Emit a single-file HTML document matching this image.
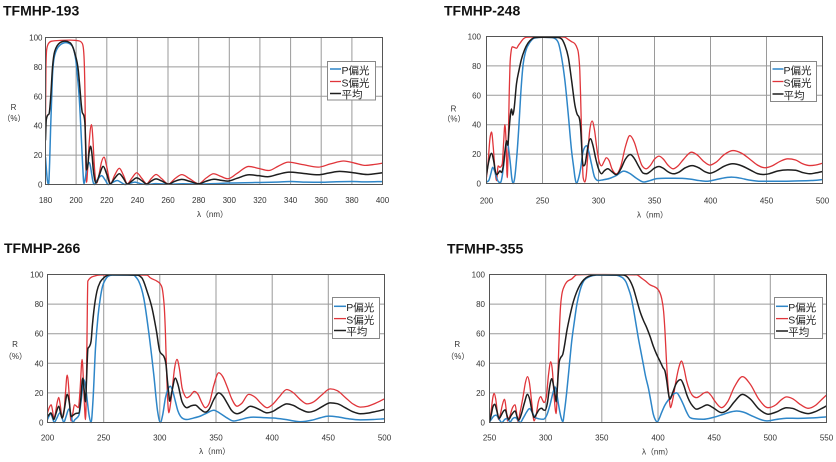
<!DOCTYPE html>
<html><head><meta charset="utf-8"><style>
html,body{margin:0;padding:0;background:#fff;}
svg{display:block;}
.t{font-family:"Liberation Sans","Noto Sans CJK JP",sans-serif;font-weight:bold;font-size:14px;fill:#111;}
.k{font-family:"Liberation Sans",sans-serif;font-size:8px;fill:#333;}
.a{font-family:"Liberation Sans","Noto Sans CJK JP",sans-serif;font-size:8px;fill:#333;}
.lg{font-family:"Liberation Sans","Noto Sans CJK JP",sans-serif;font-size:10.5px;fill:#222;}
.g{stroke:#9a9a9a;stroke-width:1;fill:none;}
.bd{stroke:#555;stroke-width:1;fill:none;}
.r{stroke:#e0353a;stroke-width:1.3;fill:none;vector-effect:non-scaling-stroke;stroke-linejoin:round;}
.b{stroke:#2e86c8;stroke-width:1.5;fill:none;vector-effect:non-scaling-stroke;stroke-linejoin:round;}
.k2{stroke:#1e1e1e;stroke-width:1.5;fill:none;vector-effect:non-scaling-stroke;stroke-linejoin:round;}
</style></head><body>
<svg width="836" height="462" viewBox="0 0 836 462" xmlns="http://www.w3.org/2000/svg">
<rect x="0" y="0" width="836" height="462" fill="#fff"/>
<defs>
<clipPath id="c1"><rect x="45.5" y="36.5" width="337" height="149"/></clipPath>
<clipPath id="c2"><rect x="486.5" y="35.5" width="336" height="149"/></clipPath>
<clipPath id="c3"><rect x="47.5" y="273.5" width="337" height="150"/></clipPath>
<clipPath id="c4"><rect x="489.5" y="273.5" width="337" height="150"/></clipPath>
</defs>

<!-- ================= CHART 1 ================= -->
<text class="t" x="3" y="15.5">TFMHP-193</text>
<g class="g">
<path d="M76.1,37.5V184.5M106.8,37.5V184.5M137.4,37.5V184.5M168,37.5V184.5M198.7,37.5V184.5M229.3,37.5V184.5M259.9,37.5V184.5M290.6,37.5V184.5M321.2,37.5V184.5M351.9,37.5V184.5"/>
<path d="M45.5,66.9H382.5M45.5,96.3H382.5M45.5,125.7H382.5M45.5,155.1H382.5"/>
</g>
<g clip-path="url(#c1)"><g transform="translate(45.5,184.5) scale(1.53182,-1.47) translate(-180,0)">
<polyline class="s r" points="180,42 180.3,80 180.8,92 182,96 184,97.5 190,98 196,98.2 200,98 202.5,97.5 204,96 204.8,92 205.4,80 205.8,60 206.2,20 206.8,1.5 207.5,10 208.5,28 210,40.7 211,30 211.8,14 212.6,4 213.4,1 215,7 216.5,15 218.2,18.6 220,12 222.5,0.5 225,6 228.2,11 231,6 233.4,0.5 236.5,4.5 239.5,8 243,4 246,0.5 249,4 252.2,6.8 256,3.8 260.2,0.3 264.5,4 269,6.7 274,4 280,0.5 285,4.5 289.7,7.3 294.5,5.5 299,3.9 305,7.5 312.6,12.3 319,11 325.7,9.5 332,12.5 338.5,15.2 348,13.5 358,11.8 366,14 374.7,16 382,14.5 389,13 395,13.7 400,14.5"/>
<polyline class="s b" points="180,18.6 180.6,10 181.2,3 182,0 182.7,15 183.3,37 184,58 184.6,75 186,88 189.4,94.8 193.3,96.5 197,94.8 199.8,84.5 201,72 202,59.5 203,40 203.6,27 204.3,12 205.1,0.5 205.8,3 206.8,10 207.8,14 208.6,15 209.4,12 210.3,6 211,2 211.8,0 213.5,2.5 216.6,6 219,3 221,0 224,1.5 226.9,2.7 229.5,1.3 232,0 235,0.8 238.4,1.6 242,0.6 246,0 252,0.6 260,0.2 270,0.5 280,0.3 290,0.6 300,1 310,1.2 320,1.4 330,1.6 340,2 350,1.6 360,1.5 370,1.9 380,2 390,1.8 400,2"/>
<polyline class="s k2" points="180,30 180.5,44 181.3,47 182.3,48 183.3,58 184.6,80 186,90.5 189.4,96.4 192.6,97.5 196,96.4 199.2,89 201.4,77.7 202.5,65 203.3,55 204,49 205,47 205.7,42 206.3,25 206.8,10 207.5,12 208.5,22 209.4,26 210.3,21 211.2,10 212.2,3 213,1 215,6 217.7,12.3 220,7 222.3,0.5 225,4 228.2,7.3 231,4 233.4,0.3 236.5,2.5 239.5,4.5 243,2.5 246,0.3 249,2.3 252.2,3.8 256,2.3 260.2,0.3 264.5,2.2 269,3.5 274,2.2 280,0.5 285,2.3 290,3.6 295,2.8 299,2.3 305,4.2 313,6.6 319,6 325,5.3 332,7 339,8.4 348,7.6 358,6.6 365,7.8 372,8.9 381,8 390,6.8 395,7.3 400,8"/>
</g></g>
<rect class="bd" x="45.5" y="37.5" width="337" height="147"/>
<g class="k" text-anchor="end">
<text x="42.5" y="40.5">100</text><text x="42.5" y="69.9">80</text><text x="42.5" y="99.3">60</text><text x="42.5" y="128.7">40</text><text x="42.5" y="158.1">20</text><text x="42.5" y="187.5">0</text>
</g>
<g class="k" text-anchor="middle">
<text x="45.5" y="203">180</text><text x="76.1" y="203">200</text><text x="106.8" y="203">220</text><text x="137.4" y="203">240</text><text x="168" y="203">260</text><text x="198.7" y="203">280</text><text x="229.3" y="203">300</text><text x="259.9" y="203">320</text><text x="290.6" y="203">340</text><text x="321.2" y="203">360</text><text x="351.9" y="203">380</text><text x="382.5" y="203">400</text>
</g>
<g class="a" text-anchor="middle">
<text x="212.5" y="217">λ（nm）</text>
<text x="13.5" y="110">R</text><text x="14" y="121">（%）</text>
</g>
<rect x="327.5" y="61.5" width="48" height="38.5" fill="#fff" stroke="#888" stroke-width="1"/>
<line x1="330" y1="69" x2="341" y2="69" stroke="#2e86c8" stroke-width="1.5"/>
<line x1="330" y1="81.5" x2="341" y2="81.5" stroke="#e0353a" stroke-width="1.3"/>
<line x1="330" y1="93.5" x2="341" y2="93.5" stroke="#1e1e1e" stroke-width="1.5"/>
<g class="lg"><text x="341.5" y="74">P偏光</text><text x="341.5" y="86.3">S偏光</text><text x="341.5" y="98.2">平均</text></g>

<!-- ================= CHART 2 ================= -->
<text class="t" x="444" y="15.5">TFMHP-248</text>
<g class="g">
<path d="M542.5,36.5V183.5M598.5,36.5V183.5M654.5,36.5V183.5M710.5,36.5V183.5M766.5,36.5V183.5"/>
<path d="M486.5,65.9H822.5M486.5,95.3H822.5M486.5,124.7H822.5M486.5,154.1H822.5"/>
</g>
<g clip-path="url(#c2)"><g transform="translate(486.5,183.5) scale(1.12,-1.47) translate(-200,0)">
<polyline class="s r" points="200,4 201.5,15 203,30 204.5,35 206,25 207.5,10 209,2 210.4,12 212,11 214,13 215.3,28 216.4,40 217.4,30 218.5,4 219.5,30 220.3,62 221,81 222,90 223,93 225,92.5 226.8,92 228.5,94 230,95.5 233,98.5 235.7,99.5 250,99.8 265,99.8 270,99.5 273,98 276,96.5 279,95 281,92 282,89 282.8,83 283.3,77 284,60 284.8,36 285.6,16 286.3,4 287.8,1 289,5 290.5,20 292,35 294.3,42.5 296.5,36 298.5,24 300.5,15 302.7,12 305,15 307,17.5 309.5,15.5 312,10 316,6.5 320,12 324,25 328,32.6 332,28 336,18 339,12 342.6,10 346,12 350,16.5 354,18.6 358,16.5 362,12.5 366.6,10 371,12 376,16.5 383,21.3 388,19.5 394,15 399.4,12.5 405,14.5 412,19.5 420,22.4 428,20.5 436,16 442,12.5 448.5,10.7 455,12 462,15 469,16.8 476,16 482,13.5 488.7,12.2 494,12.6 500,13.8"/>
<polyline class="s b" points="200,1 202,2 204,7 205.5,11 207,9 209,4 211,1 212.5,0.7 214,5 215.5,14 217,24 218.8,28 220,22 221.5,12 222.5,4 223.8,0 225,3 227,18 229,40 230.5,60 232.7,81 235,90 238.7,96 243,99 250,99.5 258,99.3 261,98.7 264,96 267,86 270,70 273,47 276,22 278,10 279,4 280.4,0 282,3 284,10 286.3,22 289.3,25.7 291.5,21 293.8,13 296.7,4 299.7,2 304,2.5 310,3.5 316,5.5 322.6,8.4 328,6.8 334,3.5 340.4,1 346,2 352,3.3 360,3.6 368,3.6 375,3.5 382,3 390,2 396.4,1.5 403,2.3 410,3.5 418.7,4.3 426,3.7 435,2.3 445,1.5 460,1.5 475,1.7 490,2 500,2.6"/>
<polyline class="s k2" points="200,6 202,15 204.5,20.5 206.5,15 208,8 209,6 210.5,7 212,8.6 213.5,7.5 215,12 216.5,22 218,29 219,26 220,35 221,44 222.3,50.7 223.5,46.5 224.5,50 226.8,68 229,77 231,84 234,91 237,95.5 240,98 243,99.3 250,99.5 264,99.3 267,98.4 270,94 273,86 276,70 279,53 281,47 282.7,45 284,38 285,25 285.7,15 286.5,12 287.8,12.7 289.5,20 291,27 292.8,30.4 295,26 297.5,17 300,10 302.7,6.6 305,8.5 308.3,10 312,8 316,6 320,10 324,16.5 328.4,19.7 332,17 336,11.5 340,7 342.6,6.6 346,8 350,10.5 354,11.6 358,10.3 362,8 367,6.6 372,7.8 377,10.5 383.7,12.2 390,10.5 395,8 399.4,7 405,8.5 412,11.7 420,13.4 428,12 436,9 442,6.7 447,6.1 452,6.6 460,8.5 469,9.3 476,9 482,7.5 488.7,6.6 494,7.2 500,8.2"/>
</g></g>
<rect class="bd" x="486.5" y="36.5" width="336" height="147"/>
<g class="k" text-anchor="end">
<text x="481" y="39.5">100</text><text x="481" y="68.9">80</text><text x="481" y="98.3">60</text><text x="481" y="127.7">40</text><text x="481" y="157.1">20</text><text x="481" y="186.5">0</text>
</g>
<g class="k" text-anchor="middle">
<text x="486.5" y="203.5">200</text><text x="542.5" y="203.5">250</text><text x="598.5" y="203.5">300</text><text x="654.5" y="203.5">350</text><text x="710.5" y="203.5">400</text><text x="766.5" y="203.5">450</text><text x="822.5" y="203.5">500</text>
</g>
<g class="a" text-anchor="middle">
<text x="652.5" y="217.5">λ（nm）</text>
<text x="453.5" y="111.5">R</text><text x="454" y="121.5">（%）</text>
</g>
<rect x="770.5" y="61.5" width="46" height="40" fill="#fff" stroke="#888" stroke-width="1"/>
<line x1="772.5" y1="69" x2="783.5" y2="69" stroke="#2e86c8" stroke-width="1.5"/>
<line x1="772.5" y1="81.5" x2="783.5" y2="81.5" stroke="#e0353a" stroke-width="1.3"/>
<line x1="772.5" y1="94" x2="783.5" y2="94" stroke="#1e1e1e" stroke-width="1.5"/>
<g class="lg"><text x="783.5" y="74">P偏光</text><text x="783.5" y="86.3">S偏光</text><text x="783.5" y="98.8">平均</text></g>

<!-- ================= CHART 3 ================= -->
<text class="t" x="4" y="253">TFMHP-266</text>
<g class="g">
<path d="M103.7,274.5V422.5M159.8,274.5V422.5M216,274.5V422.5M272.2,274.5V422.5M328.3,274.5V422.5"/>
<path d="M47.5,304.1H384.5M47.5,333.7H384.5M47.5,363.3H384.5M47.5,392.9H384.5"/>
</g>
<g clip-path="url(#c3)"><g transform="translate(47.5,422.5) scale(1.12333,-1.48) translate(-200,0)">
<polyline class="s r" points="200,6.5 201.5,10 203.3,12 204.5,8 205.6,3 207,6 208.5,13 210,17 211.5,11 213,3 214.5,6 216,20 217.5,32 219,22 220,8 221,1 222.5,6 224,12 225.8,11 227.5,10 229,22 230.8,42.6 232,28 233,10 233.8,2 234.5,18 235.2,60 235.9,95.5 238.2,97.7 242,99 247,99.7 260,99.8 288.6,99.6 291.6,97.7 297.5,95.5 300,94 302,91 303,86 304,77.5 305,60 305.8,39 306.8,18 308,6.5 309.4,12 311,22 313,36 315.3,42.6 317.5,36 319.8,23.4 322,18.5 324,16.7 327,18 330.7,21 334,19 337,14 340.5,10 344,13 348,25 352.4,33.6 356,31 360,24 364,16 368.7,11 373,13 379,19 385,17 390,13 395.4,10 400,12 406,17 413,22.3 419,20 425,15.5 431,12.6 437,14 444,18.5 451.7,22.7 458,21.5 465,17 472,12.5 478.4,10.4 485,11 492,13 500,16"/>
<polyline class="s b" points="200,2 201.5,4.5 203,6 204.5,3 206,0 208,2.5 211,6.5 213,3 214.5,0 216.5,4 219,9 221,5 222.5,0 224.5,2 226,3 228,5 230,15 232.3,29 234,24 235.5,14 237,5 238.8,0 240.5,15 242.7,50 245,72 247,84 249,92 251.6,96.6 254,98.8 257.5,99.6 276.8,99.5 279,98 281.2,95.5 285.7,84 290,61.7 294.6,32.4 298,7.7 300.5,0 302.5,5 305,16.7 307,22 309.4,24.5 311.5,21 313.8,14.4 316,8 318.3,4.3 321,2.5 324,2 330,3 336,4.3 342,6.5 348,8.3 354,6 360,3 365.8,1 372,2 378,3.2 383.5,3.6 392,3.3 401,3 412,2 425,0.5 435,1.5 443,3.2 450,4.3 458,3.8 468,2.5 478.4,1.8 490,2 500,2.5"/>
<polyline class="s k2" points="200,4 201.5,5.5 203,6.5 204.5,4 205.6,2 207.5,6 210,11 211.5,7 213,3 215,9 217.5,19 219.5,13 221,4 223,5 225,6 228,6.5 229.5,15 231.4,30 232.6,22 233.8,14 234.8,30 236,50 237.5,51.6 238.8,55 240,66 241.2,75 244,88.7 247,95 250,97.7 256,99.8 279.7,99.6 284,97.7 288.6,88.7 293,77.5 297,61.7 300,48 302,46 303.5,44.8 305.5,39 306.8,28 308,19 308.8,14.4 310.5,20 313.8,30 316,26 319.8,14 322,11 324,10 328,11.3 331.6,11.7 336,9 340.5,7 344,9 348,15.5 352.4,20 356,18 360,13 364,8 368.7,5.9 374,7.5 380.6,11 388,9 395.4,6.5 400,7.3 406,10 413,12.6 419,11.5 425,9 432.4,7 438,8 444,10.5 451.7,13.3 458,12.7 465,10 472,7.2 478.4,5.9 485,6.3 492,7.4 500,8.8"/>
</g></g>
<rect class="bd" x="47.5" y="274.5" width="337" height="148"/>
<g class="k" text-anchor="end">
<text x="43.5" y="277.5">100</text><text x="43.5" y="307.1">80</text><text x="43.5" y="336.7">60</text><text x="43.5" y="366.3">40</text><text x="43.5" y="395.9">20</text><text x="43.5" y="425.5">0</text>
</g>
<g class="k" text-anchor="middle">
<text x="47.5" y="440.5">200</text><text x="103.7" y="440.5">250</text><text x="159.8" y="440.5">300</text><text x="216" y="440.5">350</text><text x="272.2" y="440.5">400</text><text x="328.3" y="440.5">450</text><text x="384.5" y="440.5">500</text>
</g>
<g class="a" text-anchor="middle">
<text x="214.7" y="454">λ（nm）</text>
<text x="15" y="347">R</text><text x="15.5" y="359">（%）</text>
</g>
<rect x="332.5" y="297.5" width="47" height="41" fill="#fff" stroke="#888" stroke-width="1"/>
<line x1="334" y1="306.3" x2="346" y2="306.3" stroke="#2e86c8" stroke-width="1.5"/>
<line x1="334" y1="318.6" x2="346" y2="318.6" stroke="#e0353a" stroke-width="1.3"/>
<line x1="334" y1="330.5" x2="346" y2="330.5" stroke="#1e1e1e" stroke-width="1.5"/>
<g class="lg"><text x="346.3" y="311">P偏光</text><text x="346.3" y="323.3">S偏光</text><text x="346.3" y="335.2">平均</text></g>

<!-- ================= CHART 4 ================= -->
<text class="t" x="447" y="253.5">TFMHP-355</text>
<g class="g">
<path d="M545.7,274.5V422.5M601.8,274.5V422.5M658,274.5V422.5M714.2,274.5V422.5M770.3,274.5V422.5"/>
<path d="M489.5,304.1H826.5M489.5,333.7H826.5M489.5,363.3H826.5M489.5,392.9H826.5"/>
</g>
<g clip-path="url(#c4)"><g transform="translate(489.5,422.5) scale(1.12333,-1.48) translate(-250,0)">
<polyline class="s r" points="250,1 251.5,8 253,17 254.1,19.7 255.5,16 257,7 258,2 259.5,5 261.5,12 263.3,15.7 265,8 266,1 268,4 270.5,10 272.8,12 274,7 275.2,0.7 277.5,8 280,18 282,27 283.8,31 285.5,27 287.5,14 289.7,1 291.5,5 293.5,14 295.6,17.5 297,15.5 298.6,13.5 300.5,17 302.5,32 304.5,41 306,35 307.5,18 309.3,6 310.3,20 311.3,42 312.2,61.7 313.2,78 314.3,86 316.5,92 318.8,95 323.2,97 327.7,99.8 340,100 381,99.8 385.4,97.5 389,95.5 392.9,93 396,92 398.8,90.8 401.5,88 403.2,84 405,75 406.2,61.7 407.5,42 408.6,28 410,16 411.2,10 413,15 416,28 418.5,37 421,41.5 423,37 425.5,28 428,22 431,18 434.3,16.8 437.5,18 440.5,19.8 443.8,20.6 447,18.5 451,14 456.6,10 462,14 468,24 475.2,31 482,26 490,15.5 498,10 505,12 510,15.5 514.4,17.3 520,16 527,12 533.6,9.6 540,11.5 545,15 550,18.6"/>
<polyline class="s b" points="250,0.5 252,2.5 254,4.5 256,5 258,3 261,0 263.5,2 265.4,2.7 267,1.5 268.5,0.5 270.5,2.5 272.8,3.4 275,2 277.3,0 280,3 283,7 285.6,9.4 288,7 290.6,3.4 294,2.5 298,2.2 301,5 304,12.3 306.5,20 308.4,24 310,19 311.4,12.3 313.5,4 315.2,0.5 316.8,8 318.8,21 321,38 323.2,55 325.5,68 327.7,79.6 330.5,89 333.6,95.3 336.5,97.5 339.5,98.7 345,99.6 363.2,99.5 366,98.8 369,97.5 371.5,95 373.6,90.8 376,85 378,77.4 380.3,67 382.5,57 385,47 387,39 389,31 391.4,23.5 393.5,15 395.8,5.6 397.5,2 399.4,0.5 401,2.5 403.2,6.7 406,11.5 410,16 413,18.8 416.6,20 419.5,17 422.5,12.3 425.5,7 428.4,3.4 432,2.5 440.3,2.2 449,3.4 458,5.5 465,7.2 470,7.8 476,7 485,4 496.6,1.1 505,2 514.4,2.9 525,2.8 535,3 542,3.3 550,3.8"/>
<polyline class="s k2" points="250,0.5 251.5,5 253,10.5 254.7,12.3 256.5,8 258.5,2.7 260.5,5 262.5,7.8 264,8.5 265.5,5 267,2 269.5,5 272.8,7.8 274.5,4 276,1.5 278.5,6 281,13 283.8,19 286,15 288,7 289.7,3.4 292,6 294.5,9 296.5,9.6 298,8.5 299.5,8.3 301.5,13 303.5,24 305.4,29.6 307,25 308.5,18 309.3,14 310.5,25 311.5,36 312.2,41.5 313.5,44 315.2,46 317,53 318.8,61.7 321,70 324.7,81.8 327.5,88 330.6,93 334,96.5 338,98.7 345.4,99.8 369,99.7 373.6,97.5 376,94.5 378,90.8 381,83 384,75 387,69 390,64 393,58 395.8,51.6 398.8,46 401.7,41.5 404.5,37 406.2,34.8 407.8,28 409.2,20 410.6,15.7 413,20 416,26 420.1,29 423,25 425.5,19 428,14.5 431,11 434.3,9 438,10 443.8,11.9 449,10 456.6,6.7 462,8.5 468,14 475.2,19 482,16 490,9 498,5.6 505,7 514.4,10 520,9.5 527,7.2 533.6,6 540,7.3 545,9.2 550,11.2"/>
</g></g>
<rect class="bd" x="489.5" y="274.5" width="337" height="148"/>
<g class="k" text-anchor="end">
<text x="485" y="277.5">100</text><text x="485" y="307.1">80</text><text x="485" y="336.7">60</text><text x="485" y="366.3">40</text><text x="485" y="395.9">20</text><text x="485" y="425.5">0</text>
</g>
<g class="k" text-anchor="middle">
<text x="489.5" y="440.5">250</text><text x="545.7" y="440.5">300</text><text x="601.8" y="440.5">350</text><text x="658" y="440.5">400</text><text x="714.2" y="440.5">450</text><text x="770.3" y="440.5">500</text><text x="826.5" y="440.5">550</text>
</g>
<g class="a" text-anchor="middle">
<text x="657.5" y="454.5">λ（nm）</text>
<text x="457.3" y="347">R</text><text x="457.8" y="359">（%）</text>
</g>
<rect x="774.5" y="297.5" width="48" height="41" fill="#fff" stroke="#888" stroke-width="1"/>
<line x1="776" y1="306.3" x2="788" y2="306.3" stroke="#2e86c8" stroke-width="1.5"/>
<line x1="776" y1="318.6" x2="788" y2="318.6" stroke="#e0353a" stroke-width="1.3"/>
<line x1="776" y1="331" x2="788" y2="331" stroke="#1e1e1e" stroke-width="1.5"/>
<g class="lg"><text x="788.3" y="311">P偏光</text><text x="788.3" y="323.3">S偏光</text><text x="788.3" y="335.7">平均</text></g>
</svg>
<script>
(function(){
  var NS='http://www.w3.org/2000/svg';
  var list=document.querySelectorAll('polyline.s');
  for(var q=0;q<list.length;q++){
    var pl=list[q];
    var raw=pl.getAttribute('points').trim().split(/\s+/);
    var X=[],Y=[];
    for(var i=0;i<raw.length;i++){var p=raw[i].split(',');X.push(+p[0]);Y.push(+p[1]);}
    var n=X.length; if(n<3) continue;
    var h=[],s=[],m=[];
    for(i=0;i<n-1;i++){h.push(X[i+1]-X[i]);s.push((Y[i+1]-Y[i])/h[i]);}
    m[0]=s[0]; m[n-1]=s[n-2];
    for(i=1;i<n-1;i++){
      var s0=s[i-1],s1=s[i];
      if(s0*s1<=0){m[i]=0;}
      else{
        var pp=(s0*h[i]+s1*h[i-1])/(h[i-1]+h[i]);
        var sg=(s0>0?1:-1);
        m[i]=sg*Math.min(Math.abs(s0),Math.abs(s1),0.5*Math.abs(pp))*2;
      }
    }
    var d='M'+X[0]+','+Y[0];
    for(i=0;i<n-1;i++){
      var dx=h[i]/3;
      d+='C'+(X[i]+dx).toFixed(3)+','+(Y[i]+m[i]*dx).toFixed(3)+' '+(X[i+1]-dx).toFixed(3)+','+(Y[i+1]-m[i+1]*dx).toFixed(3)+' '+X[i+1]+','+Y[i+1];
    }
    var path=document.createElementNS(NS,'path');
    path.setAttribute('class',pl.getAttribute('class'));
    path.setAttribute('d',d);
    pl.parentNode.replaceChild(path,pl);
  }
})();
</script>
</body></html>
